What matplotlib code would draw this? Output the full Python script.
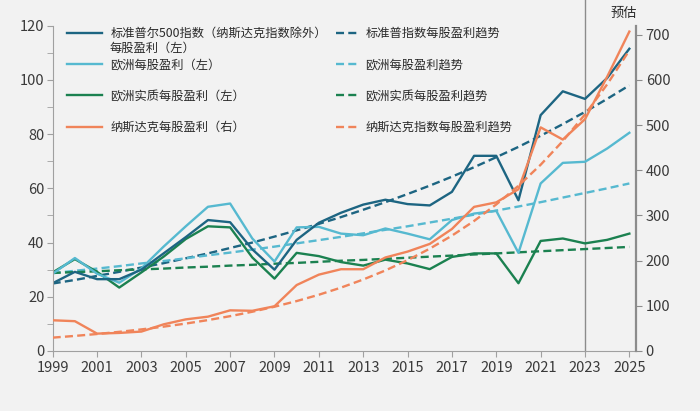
import matplotlib
matplotlib.use("Agg")
import matplotlib.pyplot as plt
from matplotlib.ticker import MultipleLocator

plt.rcParams['font.family'] = ['Noto Sans CJK SC', 'DejaVu Sans']

years = list(range(1999, 2026))

sp_eps = [25, 29.2, 26.5, 26.5, 30, 36, 42, 48.3, 47.5, 37.5, 30, 41, 47.3, 51, 54,
          55.8, 54.2, 53.7, 58.7, 72, 72, 55.6, 87, 95.8, 93, 100.7, 111.5]
eu_eps = [28.5, 34.3, 28.5, 25.2, 30.5, 38.5, 46, 53.2, 54.4, 41.5, 33, 45.6, 45.8, 43.3,
          42.7, 45.2, 43.3, 41.2, 48.3, 50.7, 51.7, 36.2, 61.8, 69.4, 69.8, 74.7, 80.5]
eu_real_eps = [29, 33.9, 29.2, 23.4, 29, 34.8, 41.3, 46, 45.6, 34.5, 26.7, 36.2, 35, 32.8,
               31.5, 33.7, 32.3, 30.2, 34.7, 36, 36, 25, 40.6, 41.5, 39.7, 41, 43.3]
nasdaq_eps = [68, 66, 38.5, 40, 43, 59, 70, 76, 90, 89, 99, 146, 169, 181, 181, 207,
              220, 237, 270, 319, 329, 358, 495, 468, 513, 607, 707]

sp_trend = [24.9, 26.2, 27.7, 29.2, 30.8, 32.4, 34.2, 36.0, 38.0, 40.0, 42.2, 44.5, 46.9,
            49.4, 52.1, 54.9, 57.9, 61.0, 64.3, 67.8, 71.5, 75.3, 79.4, 83.7, 88.2, 93.0, 98.0]
eu_trend = [28.7, 29.6, 30.4, 31.3, 32.3, 33.2, 34.2, 35.3, 36.3, 37.4, 38.5, 39.7, 40.9,
            42.1, 43.4, 44.7, 46.0, 47.4, 48.8, 50.3, 51.8, 53.3, 54.9, 56.6, 58.3, 60.0, 61.8]
eu_real_trend = [28.8, 29.1, 29.4, 29.8, 30.1, 30.4, 30.8, 31.1, 31.5, 31.8, 32.2, 32.5, 32.9,
                 33.3, 33.6, 34.0, 34.4, 34.8, 35.2, 35.6, 36.0, 36.4, 36.8, 37.2, 37.6, 38.0, 38.4]
nasdaq_trend = [29.6, 33.4, 37.6, 42.4, 47.8, 53.9, 60.7, 68.4, 77.1, 86.9, 98.0, 110.5, 124.5,
                140.3, 158.2, 178.3, 201.0, 226.5, 255.3, 287.8, 324.4, 365.7, 412.2, 464.6,
                523.6, 590.2, 665.3]

labels_solid = ['标准普尔500指数（纳斯达克指数除外）', '欧洲每股盈利（左）',
                '欧洲实质每股盈利（左）', '纳斯达克每股盈利（右）']
label_sp_line2 = '每股盈利（左）'
labels_trend = ['标准普指数每股盈利趋势', '欧洲每股盈利趋势',
                '欧洲实质每股盈利趋势', '纳斯达克指数每股盈利趋势']
x_ticks = list(range(1999, 2026, 2))
forecast_year = 2023
forecast_label = '预估'

c_sp = '#1d6582'
c_eu = '#56b9d0'
c_real = '#1b8150'
c_nas = '#f0845a'
bg = '#f2f2f2'
txt = '#2a2a2a'
grey = '#8c8c8c'

fig = plt.figure(figsize=(7, 4.11), dpi=100, facecolor=bg)
ax = fig.add_axes([52.7 / 700, 1 - 351 / 411, (636 - 52.7) / 700, (351 - 25.7) / 411])
ax.set_facecolor(bg)
ax2 = ax.twinx()

dash = (0, (3.4, 1.8))
lw = 1.7
t1, = ax.plot(years, sp_trend, color=c_sp, lw=lw, ls=dash)
t2, = ax.plot(years, eu_trend, color=c_eu, lw=lw, ls=dash)
t3, = ax.plot(years, eu_real_trend, color=c_real, lw=lw, ls=dash)
s3, = ax.plot(years, eu_real_eps, color=c_real, lw=lw)
s2, = ax.plot(years, eu_eps, color=c_eu, lw=lw)
s1, = ax.plot(years, sp_eps, color=c_sp, lw=lw)
t4, = ax2.plot(years, nasdaq_trend, color=c_nas, lw=lw, ls=dash)
s4, = ax2.plot(years, nasdaq_eps, color=c_nas, lw=lw)

ax.set_xlim(1999, 2025.3)
ax.set_ylim(0, 120)
ax2.set_ylim(0, 720)

ax.axvline(forecast_year, ymin=0, ymax=1.079, color=grey, lw=1, clip_on=False, zorder=1)
fig.text(624 / 700, 1 - 13 / 411, forecast_label, ha='center', va='center',
         fontsize=9.5, color=txt)

for a in (ax, ax2):
    a.spines['top'].set_visible(False)
ax.spines['right'].set_visible(False)
ax2.spines['left'].set_visible(False)
ax2.spines['bottom'].set_visible(False)
ax.spines['left'].set_color('#a0a0a0')
ax.spines['bottom'].set_color('#a0a0a0')
ax2.spines['right'].set_color(grey)
ax2.spines['right'].set_linewidth(1.6)

ax.set_xticks(x_ticks)
ax.yaxis.set_major_locator(MultipleLocator(20))
ax.yaxis.set_minor_locator(MultipleLocator(10))
ax2.yaxis.set_major_locator(MultipleLocator(100))
ax.tick_params(axis='both', which='both', direction='out', length=4, color='#a0a0a0',
               labelsize=10.5, labelcolor='#3a3a3a', pad=3)
ax.tick_params(axis='y', pad=2)
ax2.tick_params(axis='y', direction='out', length=4, color=grey, labelsize=10.5,
                labelcolor='#3a3a3a', pad=3)

leg_kw = dict(loc='upper left', bbox_transform=fig.transFigure, frameon=False,
              fontsize=8.8, borderpad=0, borderaxespad=0, labelspacing=1.5,
              labelcolor=txt)
leg1 = ax2.legend([s1, s2, s3, s4], labels_solid, bbox_to_anchor=(67 / 700, 1 - 27 / 411),
                  handlelength=2.9, handletextpad=0.65, **leg_kw)
ax2.add_artist(leg1)
leg2 = ax2.legend([t1, t2, t3, t4], labels_trend, bbox_to_anchor=(336 / 700, 1 - 27 / 411),
                  handlelength=1.9, handletextpad=0.5, **leg_kw)
fig.text(110 / 700, 1 - 48 / 411, label_sp_line2, ha='left', va='center',
         fontsize=8.8, color=txt)

fig.savefig('out.png', dpi=100, facecolor=bg)
